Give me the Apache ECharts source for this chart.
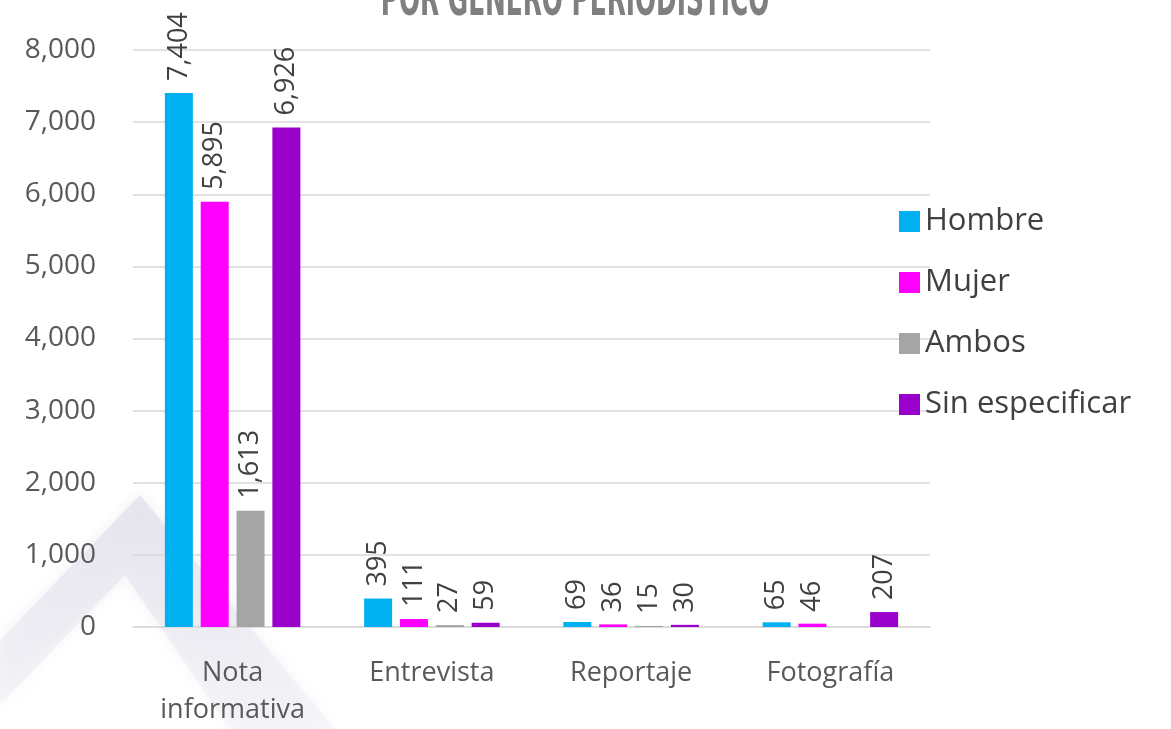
<!DOCTYPE html>
<html><head><meta charset="utf-8">
<script src="https://cdn.jsdelivr.net/npm/echarts@6/dist/echarts.min.js"></script>
<style>html,body{margin:0;padding:0;background:#fff}#c{width:1171px;height:729px}</style>
</head><body><div id="c"></div>
<script>
const categories = ['Nota\ninformativa', 'Entrevista', 'Reportaje', 'Fotografía'];
const hombre = [7404, 395, 69, 65];
const mujer = [5895, 111, 36, 46];
const ambos = [1613, 27, 15, null];
const sinEspecificar = [6926, 59, 30, 207];
const yTicks = [0, 1000, 2000, 3000, 4000, 5000, 6000, 7000, 8000];
const title = 'POR GÉNERO PERIODÍSTICO';

const FONT = '"Open Sans", "Noto Sans", sans-serif';
const fmt = v => Number(v).toLocaleString('en-US');
function mk(name, data, color) {
  return {
    name, type: 'bar', data, barWidth: 28, barGap: '28%',
    itemStyle: { color },
    label: {
      show: true, position: 'top', rotate: 90, align: 'left', verticalAlign: 'middle',
      distance: 12, color: '#404040', fontSize: 27, fontFamily: FONT,
      formatter: p => p.value == null ? '' : fmt(p.value)
    }
  };
}
const chart = echarts.init(document.getElementById('c'));
chart.setOption({
  animation: false,
  backgroundColor: '#fff',
  graphic: [
    { type: 'polygon', z: -10, silent: true,
      shape: { points: [[0,640],[140,495],[335,729],[230,729],[125,575],[0,705]] },
      style: { fill: {
        type: 'linear', x: 0, y: 0, x2: 0, y2: 1,
        colorStops: [{ offset: 0, color: 'rgba(226,223,234,0.75)' }, { offset: 1, color: 'rgba(236,234,242,0.3)' }]
      }, shadowBlur: 14, shadowColor: 'rgba(226,223,234,0.8)' } },
    { type: 'text', x: 575, y: 27, z: 10, scaleX: 0.62, scaleY: 1.25,
      style: { text: title, fontSize: 40, fontWeight: 'bold', fill: '#7f7f7f',
        align: 'center', verticalAlign: 'bottom',
        fontFamily: '"DejaVu Sans", sans-serif' } }
  ],
  grid: { left: 133, right: 241, top: 50, bottom: 95, containLabel: false },
  legend: {
    orient: 'vertical', left: 894, top: 201, itemWidth: 21, itemHeight: 21, itemGap: 30,
    icon: 'rect',
    textStyle: { fontSize: 31, color: '#404040', fontFamily: FONT, padding: [0,0,0,0] },
    data: ['Hombre', 'Mujer', 'Ambos', 'Sin especificar']
  },
  xAxis: {
    type: 'category', data: categories,
    axisLine: { lineStyle: { color: '#d9d9d9', width: 1.5 } },
    axisTick: { show: false },
    axisLabel: { fontSize: 27, color: '#595959', fontFamily: FONT, margin: 28, lineHeight: 37, interval: 0 }
  },
  yAxis: {
    type: 'value', min: 0, max: 8000, interval: 1000,
    axisLine: { show: false }, axisTick: { show: false },
    splitLine: { lineStyle: { color: '#d9d9d9', width: 1.5 } },
    axisLabel: { fontSize: 28, color: '#595959', fontFamily: FONT, margin: 37,
      formatter: v => yTicks.includes(v) ? fmt(v) : '' }
  },
  series: [
    mk('Hombre', hombre, '#00b0f0'),
    mk('Mujer', mujer, '#ff00ff'),
    mk('Ambos', ambos, '#a5a5a5'),
    mk('Sin especificar', sinEspecificar, '#9900cc')
  ]
});
</script></body></html>
